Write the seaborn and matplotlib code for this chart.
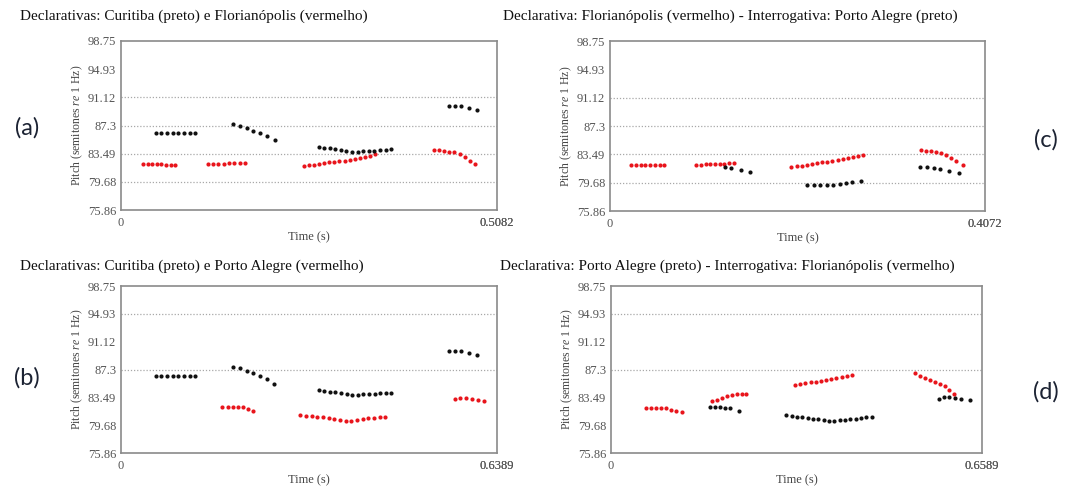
import matplotlib
matplotlib.use("Agg")
import matplotlib.pyplot as plt
import seaborn as sns
import pandas as pd

# ---------------- data ----------------
Y_TICKS = [75.86, 79.68, 83.49, 87.3, 91.12, 94.93, 98.75]
Y_TICK_LABELS = ["75.86", "79.68", "83.49", "87.3", "91.12", "94.93", "98.75"]

TITLES = [
    "Declarativas: Curitiba (preto) e Florianópolis (vermelho)",
    "Declarativa: Florianópolis (vermelho) - Interrogativa: Porto Alegre (preto)",
    "Declarativas: Curitiba (preto) e Porto Alegre (vermelho)",
    "Declarativa: Porto Alegre (preto) - Interrogativa: Florianópolis (vermelho)",
]
PANEL_TAGS = ["(a)", "(c)", "(b)", "(d)"]
END_TIMES = [0.5082, 0.4672, 0.6389, 0.6589]
END_LABELS_1 = ["0.5012", "0.4672", "0.6369", "0.6588"]
END_LABELS_2 = ["0.5082", "0.4072", "0.6389", "0.6589"]
GRID_A = [91.12, 87.3, 83.49, 79.68]
GRID_B = [94.93, 87.3]

# panel (a)
A_BLACK_T = [0.0469, 0.0545, 0.0622, 0.0699, 0.0775, 0.0852, 0.0929, 0.1006,
             0.152, 0.161, 0.170, 0.179, 0.188, 0.197, 0.2075,
             0.267, 0.2745, 0.282, 0.2896, 0.2971, 0.3047, 0.3122, 0.3198,
             0.3273, 0.3349, 0.3424, 0.35, 0.3575, 0.365,
             0.443, 0.451, 0.460, 0.471, 0.4815]
A_BLACK_P = [86.32, 86.3, 86.3, 86.3, 86.3, 86.3, 86.3, 86.3,
             87.48, 87.2, 86.9, 86.6, 86.3, 85.9, 85.3,
             84.38, 84.3, 84.2, 84.1, 84.0, 83.86, 83.78, 83.78,
             83.82, 83.86, 83.9, 83.95, 84.05, 84.1,
             89.93, 89.93, 89.88, 89.69, 89.45]
A_RED_T = [0.0302, 0.0363, 0.0425, 0.0486, 0.0547, 0.0608, 0.067, 0.0731,
           0.1173, 0.1245, 0.1317, 0.1389, 0.1461, 0.1534, 0.1606, 0.1678,
           0.2467, 0.2536, 0.2606, 0.2675, 0.2744, 0.2814, 0.2883, 0.2952,
           0.3021, 0.3091, 0.316, 0.3229, 0.3298, 0.3368, 0.3437,
           0.4226, 0.4293, 0.4361, 0.4429, 0.4496, 0.4578, 0.4645, 0.4713, 0.479]
A_RED_P = [82.14, 82.1, 82.07, 82.05, 82.03, 82.0, 81.98, 81.96,
           82.07, 82.1, 82.12, 82.15, 82.17, 82.2, 82.22, 82.25,
           81.87, 81.92, 81.96, 82.14, 82.23, 82.33, 82.42, 82.46,
           82.55, 82.65, 82.78, 82.92, 83.05, 83.24, 83.38,
           83.92, 83.92, 83.83, 83.74, 83.65, 83.42, 83.01, 82.55, 82.14]

# panel (c)
C_BLACK_T = [0.1435, 0.151, 0.1627, 0.174,
             0.246, 0.254, 0.262, 0.270, 0.278, 0.286, 0.294, 0.302, 0.313,
             0.3867, 0.395, 0.4033, 0.4117, 0.4221, 0.4346]
C_BLACK_P = [81.75, 81.6, 81.4, 81.07,
             79.3, 79.3, 79.3, 79.35, 79.39, 79.48, 79.62, 79.75, 79.89,
             81.8, 81.75, 81.71, 81.57, 81.3, 81.03]
C_RED_T = [0.0267, 0.0325, 0.0384, 0.0442, 0.05, 0.0559, 0.0617, 0.0676,
           0.1072, 0.1131, 0.119, 0.1249, 0.1308, 0.1367, 0.1426, 0.1485, 0.1543,
           0.226, 0.2324, 0.2388, 0.2452, 0.2516, 0.258, 0.2644, 0.2708,
           0.2772, 0.2836, 0.29, 0.2964, 0.3028, 0.3092, 0.3158,
           0.3875, 0.3938, 0.4, 0.4063, 0.4126, 0.4188, 0.4251, 0.4313, 0.4397]
C_RED_P = [82.1, 82.07, 82.07, 82.05, 82.05, 82.03, 82.03, 82.02,
           82.07, 82.1, 82.13, 82.16, 82.2, 82.23, 82.25, 82.27, 82.3,
           81.85, 81.9, 81.95, 82.12, 82.22, 82.32, 82.42, 82.48,
           82.57, 82.67, 82.8, 82.95, 83.1, 83.28, 83.44,
           84.03, 83.99, 83.9, 83.8, 83.67, 83.44, 83.03, 82.58, 82.12]

# panel (b)
B_BLACK_T = [0.059, 0.0686, 0.0782, 0.0879, 0.0975, 0.1071, 0.1168, 0.1264,
             0.191, 0.2024, 0.2137, 0.225, 0.2364, 0.2477, 0.2608,
             0.3357, 0.3452, 0.3547, 0.3642, 0.3737, 0.3832, 0.3927, 0.4023,
             0.4118, 0.4213, 0.4308, 0.4403, 0.4498, 0.4593,
             0.5568, 0.5674, 0.578, 0.592, 0.6049]
B_BLACK_P = [86.47, 86.47, 86.47, 86.47, 86.47, 86.47, 86.47, 86.47,
             87.63, 87.49, 87.12, 86.84, 86.47, 86.0, 85.35,
             84.47, 84.38, 84.28, 84.2, 84.1, 83.98, 83.86, 83.86,
             83.9, 83.95, 84.0, 84.05, 84.1, 84.14,
             89.86, 89.86, 89.8, 89.55, 89.28]
B_RED_T = [0.1724, 0.181, 0.1895, 0.198, 0.207, 0.2155, 0.224,
           0.3045, 0.3141, 0.3238, 0.3334, 0.3431, 0.3527, 0.3623, 0.372,
           0.3816, 0.3912, 0.4009, 0.4105, 0.4202, 0.4298, 0.4394, 0.4491,
           0.567, 0.5766, 0.5862, 0.5965, 0.6061, 0.6163]
B_RED_P = [82.23, 82.23, 82.23, 82.23, 82.14, 81.9, 81.68,
           81.02, 80.98, 80.93, 80.84, 80.74, 80.65, 80.56, 80.42,
           80.23, 80.28, 80.37, 80.51, 80.6, 80.65, 80.74, 80.84,
           83.21, 83.4, 83.45, 83.3, 83.07, 82.98]

# panel (d)
D_BLACK_T = [0.1763, 0.1851, 0.194, 0.2029, 0.2118, 0.2277,
             0.3111, 0.3206, 0.3301, 0.3396, 0.3491, 0.3586, 0.3681, 0.3776,
             0.3871, 0.3966, 0.4061, 0.4156, 0.4251, 0.4346, 0.4441, 0.4536, 0.4631,
             0.5832, 0.5921, 0.601, 0.611, 0.6211, 0.6376]
D_BLACK_P = [82.11, 82.11, 82.11, 82.07, 81.97, 81.6,
             81.0, 80.95, 80.86, 80.77, 80.68, 80.58, 80.49, 80.35,
             80.26, 80.26, 80.35, 80.44, 80.54, 80.58, 80.68, 80.77, 80.86,
             83.3, 83.49, 83.53, 83.4, 83.21, 83.07]
D_RED_T = [0.0627, 0.0716, 0.0804, 0.0893, 0.0982, 0.1071, 0.1159, 0.126,
           0.1792, 0.1881, 0.197, 0.2058, 0.2147, 0.2236, 0.2325, 0.2401,
           0.3271, 0.3362, 0.3454, 0.3545, 0.3637, 0.3728, 0.382, 0.3911,
           0.4003, 0.4094, 0.4186, 0.4277,
           0.54, 0.5489, 0.5578, 0.5666, 0.5755, 0.5844, 0.5933, 0.601, 0.6092]
D_RED_P = [82.02, 82.07, 82.07, 82.02, 81.97, 81.79, 81.6, 81.42,
           82.94, 83.17, 83.45, 83.72, 83.86, 83.9, 83.9, 83.9,
           85.2, 85.29, 85.43, 85.57, 85.66, 85.75, 85.84, 85.98,
           86.12, 86.26, 86.4, 86.58,
           86.85, 86.45, 86.12, 85.89, 85.66, 85.34, 85.01, 84.55, 84.0]

BLACK_T = [A_BLACK_T, C_BLACK_T, B_BLACK_T, D_BLACK_T]
BLACK_P = [A_BLACK_P, C_BLACK_P, B_BLACK_P, D_BLACK_P]
RED_T = [A_RED_T, C_RED_T, B_RED_T, D_RED_T]
RED_P = [A_RED_P, C_RED_P, B_RED_P, D_RED_P]
GRIDS = [GRID_A, GRID_A, GRID_B, GRID_B]

# ---------------- style ----------------
sns.set_theme(style="white")
plt.rcParams["font.family"] = ["Liberation Serif", "DejaVu Serif"]
plt.rcParams["mathtext.fontset"] = "custom"
plt.rcParams["mathtext.rm"] = "Liberation Serif"
plt.rcParams["mathtext.it"] = "Liberation Serif:italic"

W, H = 1066, 490
fig = plt.figure(figsize=(W / 100, H / 100), dpi=100)
fig.patch.set_facecolor("white")

# axes boxes in pixels: left, top, right, bottom
BOXES = [(121, 41, 497, 210), (610, 41, 985, 211), (121, 286, 497, 453), (611, 286, 982, 453)]
TITLE_POS = [(20, 16), (503, 16), (20, 266), (500, 266)]
TAG_POS = [(27, 128), (1046, 140), (27, 378), (1046, 392)]

TICK_COLOR = "#555555"
SPINE_COLOR = "#8a8a8a"

for i in range(4):
    l, t, r, b = BOXES[i]
    ax = fig.add_axes([l / W, 1 - b / H, (r - l) / W, (b - t) / H])
    for g in GRIDS[i]:
        ax.axhline(g, color="#a8a8a8", lw=0.9, ls=(0, (1, 1.5)), zorder=1)
    df_b = pd.DataFrame({"t": BLACK_T[i], "p": BLACK_P[i]})
    df_r = pd.DataFrame({"t": RED_T[i], "p": RED_P[i]})
    sns.scatterplot(data=df_r, x="t", y="p", ax=ax, color="#e8151c", s=9,
                    linewidth=0, marker="o", zorder=3)
    sns.scatterplot(data=df_b, x="t", y="p", ax=ax, color="#111111", s=9,
                    linewidth=0, marker="o", zorder=3)
    ax.set_xlim(0, END_TIMES[i])
    ax.set_ylim(75.86, 98.75)
    ax.set_yticks(Y_TICKS, labels=Y_TICK_LABELS)
    ax.set_xticks([0, END_TIMES[i], END_TIMES[i]],
                  labels=["0", END_LABELS_1[i], END_LABELS_2[i]])
    ax.tick_params(axis="y", direction="out", length=2.5, width=0.8,
                   color=SPINE_COLOR, labelsize=9, labelcolor=TICK_COLOR, pad=1)
    ax.tick_params(axis="x", direction="out", length=0, width=0.8,
                   color=SPINE_COLOR, labelsize=9, labelcolor=TICK_COLOR, pad=5)
    for s in ax.spines.values():
        s.set_color(SPINE_COLOR)
        s.set_linewidth(1.2)
    ax.set_ylabel(r"Pitch (semitones $\it{re}$ 1 Hz)", fontsize=8.5,
                  color="#444444", labelpad=2)
    ax.set_xlabel("Time (s)", fontsize=9, color="#444444", labelpad=2)
    ax.grid(False)
    ax.set_facecolor("white")

    tx, ty = TITLE_POS[i]
    fig.text(tx / W, 1 - ty / H, TITLES[i], fontsize=11, color="#111111",
             ha="left", va="center")
    gx, gy = TAG_POS[i]
    fig.text(gx / W, 1 - gy / H, PANEL_TAGS[i], fontsize=17, color="#1c2333",
             ha="center", va="center", family=["Lato", "DejaVu Sans"])

fig.savefig("out.png", dpi=100, facecolor="white")
